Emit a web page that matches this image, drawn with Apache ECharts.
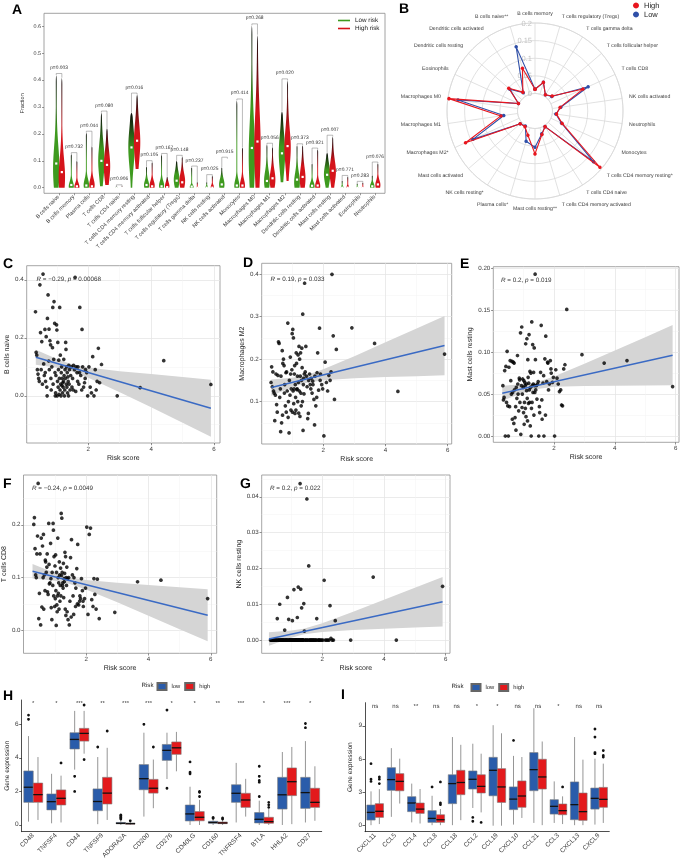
<!DOCTYPE html>
<html><head><meta charset="utf-8">
<script src="https://cdn.jsdelivr.net/npm/echarts@6/dist/echarts.min.js"></script>
<style>html,body{margin:0;padding:0;background:#fff}#c{width:685px;height:865px;will-change:transform;background:transparent;-webkit-font-smoothing:antialiased}#c svg{will-change:transform;text-rendering:geometricPrecision}</style>
</head><body><div id="c"></div><script>
// ---------------- DATA ----------------
const cellTypes = ['B cells naive','B cells memory','Plasma cells','T cells CD8','T cells CD4 naive','T cells CD4 memory resting','T cells CD4 memory activated','T cells follicular helper','T cells regulatory (Tregs)','T cells gamma delta','NK cells resting','NK cells activated','Monocytes','Macrophages M0','Macrophages M1','Macrophages M2','Dendritic cells resting','Dendritic cells activated','Mast cells resting','Mast cells activated','Eosinophils','Neutrophils'];
const violinPValues = ['0.003','0.732','0.044','0.080','0.906','0.016','0.105','0.167','0.148','0.237','0.025','0.915','0.414','0.268','0.056','0.020','0.373','0.921','0.007','0.771','0.283','0.076'];
// [min, max, median, densest value, spread, relative width]
const violinLow = [[0,0.42,0.09,0.07,0.06,1],[0,0.125,0.01,0.005,0.012,0.8],[0,0.205,0.008,0.01,0.015,0.85],[0.005,0.28,0.10,0.10,0.045,1],[0,0.004,0,0.001,0.002,0.3],[0,0.28,0.15,0.15,0.05,1],[0,0.078,0.01,0.01,0.012,0.8],[0,0.122,0.005,0.008,0.012,0.8],[0,0.10,0.026,0.03,0.02,0.9],[0,0.075,0.004,0.003,0.005,0.6],[0,0.02,0,0.001,0.004,0.4],[0,0.075,0.012,0.012,0.015,0.85],[0,0.325,0.008,0.008,0.015,0.8],[0,0.605,0.148,0.12,0.09,1],[0,0.16,0.025,0.025,0.025,0.9],[0.02,0.285,0.128,0.13,0.05,1],[0,0.158,0.03,0.02,0.025,0.9],[0,0.09,0.007,0.005,0.01,0.8],[0,0.13,0.048,0.05,0.025,1],[0,0.025,0,0.001,0.004,0.4],[0,0.015,0,0.001,0.003,0.3],[0,0.045,0.005,0.005,0.008,0.7]];
const violinHigh = [[0,0.41,0.058,0.04,0.05,1],[0,0.10,0.005,0.003,0.01,0.8],[0,0.155,0.005,0.01,0.015,0.85],[0.01,0.222,0.085,0.08,0.04,1],[0,0.005,0,0.001,0.002,0.3],[0.07,0.347,0.175,0.17,0.05,1],[0,0.095,0.005,0.008,0.012,0.8],[0,0.04,0.002,0.006,0.01,0.7],[0,0.115,0.02,0.025,0.02,0.9],[0,0.02,0,0,0.003,0.3],[0,0.043,0,0.002,0.006,0.5],[0,0.108,0.012,0.012,0.015,0.85],[0,0.15,0.008,0.008,0.015,0.8],[0,0.57,0.172,0.15,0.1,1],[0,0.152,0.035,0.03,0.025,0.9],[0.025,0.40,0.155,0.15,0.05,1],[0,0.158,0.04,0.035,0.03,0.9],[0,0.142,0.008,0.006,0.012,0.8],[0,0.19,0.063,0.06,0.03,1],[0,0.04,0,0.001,0.005,0.4],[0,0.018,0,0.001,0.003,0.3],[0,0.09,0.012,0.01,0.012,0.8]];
const violinTicks = [0,0.1,0.2,0.3,0.4,0.5,0.6];

const radarCats = ['B cells memory','T cells regulatory (Tregs)','T cells gamma delta','T cells follicular helper','T cells CD8','NK cells activated','Neutrophils','Monocytes','T cells CD4 memory resting*','T cells CD4 naive','T cells CD4 memory activated','Mast cells resting**','Plasma cells*','NK cells resting*','Mast cells activated','Macrophages M2*','Macrophages M1','Macrophages M0','Eosinophils','Dendritic cells resting','Dendritic cells activated','B cells naive**'];
const radarHigh = [0.012,0.035,0.005,0.015,0.100,0.022,0.012,0.035,0.194,0.003,0.020,0.072,0.022,0.003,0.006,0.167,0.048,0.197,0.002,0.049,0.014,0.077];
const radarLow  = [0.012,0.035,0.005,0.013,0.116,0.024,0.010,0.033,0.170,0.003,0.018,0.053,0.040,0.001,0.006,0.144,0.040,0.171,0.002,0.045,0.012,0.140];
const radarTicks = [0,0.05,0.1,0.15,0.2];

const riskScore = [0.32,0.34,0.36,0.38,0.40,0.42,0.44,0.46,0.48,0.50,0.52,0.54,0.56,0.58,
 0.60,0.62,0.63,0.64,0.66,0.68,0.69,0.70,0.72,0.74,0.75,0.76,0.78,0.80,0.81,0.82,0.84,0.86,0.87,0.88,
 0.90,0.91,0.93,0.94,0.95,0.96,0.97,0.99,1.00,1.01,1.02,1.03,1.04,1.05,1.06,1.07,1.08,1.09,1.10,1.11,1.12,1.13,1.14,1.15,1.16,1.17,1.18,1.19,
 1.20,1.21,1.22,1.23,1.24,1.25,1.26,1.27,1.28,1.29,1.30,1.31,1.32,1.33,1.34,1.35,1.36,1.37,1.38,1.39,1.40,1.42,1.44,1.46,1.48,
 1.50,1.52,1.53,1.56,1.58,1.60,1.61,1.64,1.66,1.67,1.70,1.72,1.73,1.76,1.79,1.80,1.82,1.85,1.88,1.90,1.91,1.95,1.98,
 2.02,2.06,2.10,2.14,2.18,2.22,2.25,2.28,2.32,2.36,2.42,
 2.92,3.65,4.40,5.90];
const bCellsNaive = [0.29,0.15,0.14,0.09,0.075,0.06,0.05,0.383,0.218,0.09,0.187,0.04,0.42,0.11,
 0.07,0.229,0.08,0.05,0.204,0.03,0.0,0.267,0.348,0.12,0.23,0.09,0.19,0.176,0.06,0.02,0.1,0.166,0.305,0.04,
 0.126,0.325,0.25,0.08,0.0,0.01,0.07,0.245,0.227,0.0,0.05,0.184,0.03,0.09,0.123,0.005,0.06,0.305,0.02,0.14,0.04,0.0,0.08,0.1,0.035,0.06,0.01,0.045,
 0.03,0.05,0.126,0.07,0.0,0.02,0.09,0.06,0.184,0.16,0.04,0.1,0.03,0.08,0.01,0.065,0.05,0.0,0.105,0.04,0.09,0.02,0.07,0.1,0.03,
 0.06,0.02,0.105,0.09,0.409,0.015,0.1,0.08,0.05,0.1,0.04,0.08,0.305,0.07,0.02,0.229,0.1,0.03,0.045,0.06,0.09,0.08,0.0,
 0.1,0.03,0.01,0.135,0.0,0.09,0.02,0.05,0.164,0.045,0.108,
 0.0,0.028,0.121,0.039];
const macrophagesM2 = [0.145,0.182,0.135,0.17,0.125,0.12,0.055,0.115,0.165,0.093,0.075,0.162,0.241,0.237,
 0.11,0.13,0.029,0.16,0.05,0.22,0.068,0.19,0.2,0.185,0.12,0.14,0.09,0.168,0.075,0.17,0.125,0.285,0.063,0.1,
 0.026,0.15,0.115,0.205,0.165,0.08,0.13,0.175,0.26,0.075,0.27,0.125,0.25,0.095,0.13,0.165,0.185,0.072,0.14,0.11,0.08,0.215,0.19,0.128,0.13,0.16,0.1,0.21,
 0.145,0.073,0.23,0.125,0.2,0.065,0.16,0.215,0.12,0.09,0.15,0.226,0.18,0.1,0.306,0.032,0.14,0.155,0.118,0.165,0.379,0.17,0.23,0.16,0.135,
 0.06,0.072,0.15,0.165,0.14,0.13,0.155,0.12,0.148,0.14,0.105,0.045,0.16,0.09,0.11,0.168,0.215,0.127,0.273,0.15,0.165,0.14,0.13,
 0.019,0.193,0.145,0.125,0.162,0.15,0.17,0.4,0.255,0.105,0.223,
 0.274,0.237,0.124,0.212];
const mastCellsResting = [0.06,0.043,0.046,0.078,0.0,0.083,0.04,0.101,0.036,0.0,0.082,0.035,0.09,0.066,
 0.05,0.089,0.02,0.052,0.088,0.015,0.087,0.055,0.022,0.035,0.007,0.058,0.045,0.096,0.062,0.05,0.03,0.069,0.067,0.04,
 0.123,0.002,0.06,0.13,0.034,0.05,0.068,0.058,0.028,0.066,0.014,0.04,0.064,0.06,0.033,0.11,0.023,0.062,0.054,0.116,0.045,0.018,0.091,0.07,0.039,0.063,0.121,0.055,
 0.04,0.077,0.012,0.058,0.075,0.0,0.033,0.136,0.04,0.06,0.109,0.052,0.062,0.076,0.025,0.105,0.06,0.052,0.193,0.091,0.055,0.06,0.044,0.062,0.065,
 0.0,0.035,0.028,0.076,0.132,0.043,0.02,0.063,0.072,0.0,0.092,0.025,0.119,0.065,0.088,0.087,0.055,0.062,0.09,0.08,0.075,0.064,0.07,
 0.0,0.079,0.069,0.062,0.053,0.055,0.037,0.036,0.08,0.085,0.151,
 0.097,0.087,0.09,0.059];
const tCellsCD8 = [0.201,0.214,0.155,0.105,0.1,0.145,0.179,0.279,0.022,0.07,0.145,0.01,0.175,0.044,
 0.16,0.1,0.182,0.04,0.105,0.075,0.133,0.13,0.11,0.12,0.145,0.073,0.068,0.203,0.125,0.088,0.09,0.165,0.098,0.043,
 0.02,0.11,0.085,0.203,0.19,0.065,0.14,0.045,0.122,0.06,0.143,0.075,0.009,0.11,0.048,0.035,0.065,0.175,0.1,0.07,0.09,0.04,0.13,0.105,0.055,0.085,0.118,0.065,
 0.222,0.104,0.213,0.11,0.085,0.09,0.08,0.127,0.062,0.098,0.092,0.108,0.148,0.04,0.14,0.028,0.1,0.085,0.12,0.035,0.098,0.02,0.1,0.01,0.055,
 0.138,0.025,0.172,0.105,0.065,0.03,0.1,0.09,0.045,0.08,0.117,0.05,0.163,0.048,0.055,0.065,0.06,0.098,0.075,0.055,0.045,0.06,0.08,
 0.196,0.03,0.182,0.194,0.058,0.045,0.098,0.068,0.04,0.097,0.022,
 0.034,0.092,0.095,0.06];
const nkCellsResting = [0,0,0,0,0,0,0,0,0,0,0,0.006,0,0,
 0,0.01,0,0,0,0,0,0,0,0,0,0,0.0028,0,0,0,0,0,0.0119,0,
 0,0.0058,0,0,0,0,0,0,0,0,0,0.0054,0,0,0,0,0.0141,0,0,0,0,0,0,0,0,0,0,0.0063,
 0,0,0.0148,0,0,0,0,0,0.0437,0,0.0142,0,0,0.009,0,0,0,0,0,0,0.0102,0.0025,0,0,0,
 0.0394,0,0,0.0207,0,0,0,0,0,0,0,0,0,0,0,0,0.006,0,0,0,0,0,0,
 0,0.0167,0,0,0,0,0.0096,0.0005,0,0,0.0054,
 0,0.0176,0,0.015];
// fitted lines and 95% bands
const fitC = [[0.33,0.133],[5.9,-0.043]];
const bandC = {x:[0.33,1,1.4,2,3,4,5,5.9], lo:[0.107,0.097,0.087,0.062,0.012,-0.040,-0.093,-0.141], hi:[0.159,0.127,0.111,0.098,0.085,0.075,0.065,0.055]};
const fitD = [[0.33,0.133],[5.9,0.232]];
const bandD = {x:[0.33,1,1.4,2,3,4,5,5.9], lo:[0.114,0.134,0.143,0.150,0.155,0.158,0.160,0.162], hi:[0.152,0.156,0.161,0.176,0.207,0.240,0.272,0.302]};
const fitE = [[0.3,0.051],[5.9,0.0964]];
const bandE = {x:[0.3,1,1.4,2,3,4,5,5.9], lo:[0.042,0.0516,0.0559,0.0586,0.0596,0.060,0.0603,0.0604], hi:[0.060,0.0618,0.0639,0.071,0.0862,0.102,0.1179,0.1324]};
const fitF = [[0.28,0.112],[5.9,0.0284]];
const bandF = {x:[0.28,1,1.4,2,3,4,5,5.9], lo:[0.0984,0.0939,0.0893,0.0775,0.0532,0.0275,0.0019,-0.0209], hi:[0.1256,0.1087,0.1013,0.0953,0.09,0.0859,0.0817,0.0777]};
const fitG = [[0.27,0.0003],[5.9,0.0107]];
const bandG = {x:[0.27,1,1.4,2,3,4,5,5.9], lo:[-0.0016,0.00065,0.00159,0.00228,0.00279,0.00317,0.00352,0.00382], hi:[0.0022,0.00265,0.00319,0.00472,0.00791,0.01123,0.01458,0.01762]};

const checkpointGenes = ['CD48','TNFSF4','CD44','TNFSF9','ADORA2A','CD200','CD276','CD40LG','CD160','TNFRSF4','BTLA','HHLA2','CD27'];
const checkpointSig = ['*','*','***','**','***','***','*','*','**','***','*','***','*'];
// [lower whisker, Q1, median, Q3, upper whisker]
const checkpointLow = [[0.2,1.35,2.25,3.22,5.3],[0.1,0.9,1.39,1.85,3.05],[3.3,4.53,5.1,5.5,6.8],[0.05,0.85,1.4,2.15,4.05],[0,0.07,0.1,0.15,0.3],[0.5,2.1,2.76,3.6,5.5],[2.74,3.85,4.45,4.8,5.5],[0,0.24,0.66,1.19,2.28],[0,0.1,0.15,0.22,0.35],[0.15,1.35,1.89,2.4,3.7],[0,0.12,0.34,0.74,1.45],[0,0.95,1.8,2.84,4.35],[0.15,0.99,1.93,2.84,5.0]];
const checkpointLowOut = [[6.3,6.55],[],[2.9,2.0],[4.65],[0.35,0.42,0.48,0.55,0.6],[6.0],[6.85,2.19],[3.05,3.15,3.76],[0.4,0.45,0.5],[],[1.7,2.4,2.55,2.65,2.9,3.5],[],[5.8,6.05]];
const checkpointHigh = [[0.3,1.35,1.81,2.5,4.05],[0.15,1.19,1.59,2.09,2.94],[4.25,5.0,5.46,5.76,6.8],[0.3,1.25,1.9,2.84,4.6],[0,0.05,0.08,0.12,0.2],[1.0,1.9,2.19,2.72,3.9],[3.2,4.21,4.6,4.95,5.55],[0,0.25,0.46,0.8,1.5],[0,0.08,0.12,0.18,0.3],[0.5,1.05,1.49,1.89,2.75],[0,0.1,0.2,0.46,0.95],[0.05,1.75,2.58,3.4,4.65],[0.25,1.05,1.35,2.19,3.5]];
const checkpointHighOut = [[],[3.7],[7.15,3.9],[5.6],[0.25],[4.65,0.7],[],[1.7,1.95,2.0],[0.35,0.42],[],[1.05,1.2,1.35],[],[]];
const checkpointTicks = [0,2,4,6];

const chemoGenes = ['CXCL11','CCL5','CCL4','CCL8','CCL18','CCL2','CCL19','CXCL10','CCL21','CCL3','CXCL13','CXCL9'];
const chemoSig = ['ns','ns','**','ns','ns','*','*','ns','ns','*','ns','ns'];
const chemoLow = [[0.05,0.51,1.2,1.87,3.1],[0.8,3.19,4.16,5.24,7.0],[0.3,1.27,2.05,2.62,3.8],[0.05,0.3,0.66,1.36,2.7],[0.05,1.99,3.8,4.6,8.0],[1.6,3.31,4.19,4.94,7.4],[0,2.7,5.0,6.17,9.07],[0.1,1.45,2.4,3.5,6.3],[0.25,3.16,5.06,6.6,10.6],[0.25,1.05,1.75,2.35,4.0],[0.05,0.54,1.9,3.95,8.0],[0.1,1.5,2.47,3.4,6.05]];
const chemoLowOut = [[4.0,4.2,5.6],[],[],[3.5],[],[0.75,0.4],[],[7.7],[],[],[],[6.5,6.6,8.0,8.73]];
const chemoHigh = [[0.15,0.75,1.3,1.99,3.3],[2.0,3.15,4.0,4.7,6.05],[0.2,1.11,1.5,2.05,3.31],[0.05,0.3,0.54,0.99,1.5],[0.5,2.8,3.9,5.0,7.3],[1.2,2.95,3.55,4.6,6.5],[0,2.1,3.5,5.15,8.34],[0.7,1.66,2.68,4.04,6.2],[0.05,3.31,4.4,6.0,7.6],[0.15,0.99,1.36,1.96,2.65],[0.05,0.48,1.27,2.95,5.96],[0.25,1.66,2.38,3.46,5.6]];
const chemoHighOut = [[3.8,4.2,4.4],[],[],[1.9,2.05,2.2,3.95],[],[0.3],[],[],[],[3.5],[],[6.2,6.35,6.78]];
const chemoTicks = [0,3,6,9];

// ---------------- STYLE ----------------
const FONT = '"Liberation Sans", Arial, Helvetica, sans-serif';
const GREEN = '#3E9A1F', VRED = '#D5141B';
const BLUE = '#2A5CAA', RED = '#E3191C';
const RBLUE = '#2F4FA8', RRED = '#E8161E';
const FIT = '#3A6AC4';
const TXT = '#3a3a3a';

const grids = [], xAxes = [], yAxes = [], series = [], graphics = [];

// ---- Panel A ----
grids.push({left:44, top:13.3, width:341, height:180, show:true, borderColor:'#8c8c8c', borderWidth:0.8});
const idx = cellTypes.map((c,i)=>i);
xAxes.push({gridIndex:0, type:'value', min:-1.0, max:21.66, axisLine:{show:false, onZero:false}, splitLine:{show:false},
  axisTick:{show:true, length:2, customValues:idx, lineStyle:{color:'#555', width:0.6}},
  axisLabel:{customValues:idx, formatter:v=>cellTypes[Math.round(v)]||'', rotate:45, fontSize:5.5, color:TXT, margin:3, fontFamily:FONT}});
yAxes.push({gridIndex:0, type:'value', min:-0.021, max:0.65, axisLine:{show:false, onZero:false}, splitLine:{show:false},
  axisTick:{show:true, length:2, customValues:violinTicks, lineStyle:{color:'#555', width:0.6}},
  axisLabel:{customValues:violinTicks, formatter:v=>v.toFixed(1), fontSize:5.4, color:TXT, margin:3, fontFamily:FONT},
  name:'Fraction', nameLocation:'middle', nameGap:18, nameTextStyle:{fontSize:5.6, color:'#333', fontFamily:FONT}});

function violinRender(stats, dx, color){
  return function(params, api){
    const i = params.dataIndex; const s = stats[i];
    const [lo,hi,med,peak,sp,rw] = s;
    const cx = api.coord([i,0])[0] + dx;
    const W = 3.2, N = 50, L = [], R = [];
    for (let k=0;k<=N;k++){
      const v = lo + (hi-lo)*k/N;
      const g = Math.exp(-0.5*Math.pow((v-peak)/(sp*1.3),2));
      const g2 = Math.exp(-0.5*Math.pow((v-peak)/(sp*3),2));
      let w = W*rw*(0.7*g + 0.3*g2);
      w = Math.max(w, 0.45);
      const tt = Math.min(1, (hi-v)/((hi-lo)*0.05+1e-9));
      w *= Math.sqrt(tt);
      const y = api.coord([i, v])[1];
      R.push([cx+w, y]); L.push([cx-w, y]);
    }
    const pts = R.concat(L.reverse());
    const my = api.coord([i, med])[1];
    return {type:'group', children:[
      {type:'polygon', shape:{points:pts}, style:{fill:new echarts.graphic.LinearGradient(0,0,0,1,[{offset:0,color:'#0a0a0a'},{offset:0.5,color:color},{offset:1,color:color}])}},
      {type:'rect', shape:{x:cx-1.1, y:my-1.1, width:2.2, height:2.2}, style:{fill:'#fff'}}
    ]};
  };
}
const violinData = cellTypes.map((c,i)=>[i, 0, 0.6]);
series.push({type:'custom', name:'Low risk', xAxisIndex:0, yAxisIndex:0, data:violinData, encode:{x:0,y:[1,2]}, itemStyle:{color:GREEN}, renderItem:violinRender(violinLow,-2.8,GREEN), z:3});
series.push({type:'custom', name:'High risk', xAxisIndex:0, yAxisIndex:0, data:violinData, encode:{x:0,y:[1,2]}, itemStyle:{color:VRED}, renderItem:violinRender(violinHigh,2.8,VRED), z:3});
series.push({type:'custom', name:'pvals', xAxisIndex:0, yAxisIndex:0, data:violinData, encode:{x:0,y:[1,2]}, silent:true, z:4,
  renderItem:function(params, api){
    const i = params.dataIndex; const a = violinLow[i], b = violinHigh[i];
    const xl = api.coord([i,0])[0]-2.8, xh = xl+5.6;
    const top = Math.max(a[1], b[1]);
    const yb = api.coord([i, top])[1] - 1.5;
    const yl = api.coord([i, a[1]])[1], yh = api.coord([i, b[1]])[1];
    return {type:'group', children:[
      {type:'polyline', shape:{points:[[xl,yl],[xl,yb],[xh,yb],[xh,yh]]}, style:{stroke:'#777', lineWidth:0.5, fill:null}},
      {type:'text', x:(xl+xh)/2, y:yb-5, style:{text:'p='+violinPValues[i], fontSize:4.9, fill:'#333', align:'center', verticalAlign:'middle', fontFamily:FONT}}
    ]};
  }});

// ---- Scatter panels C-G ----
const scatterCfg = [
 {y:bCellsNaive, name:'B cells naive', box:[26.7,265.7,193.3,177.3], xr:[0.04,6.19], yr:[-0.163,0.449], yMajor:[0,0.2,0.4], yMinor:[-0.1,0.1,0.3], dec:1, fit:fitC, band:bandC, stat:['−0.29','0.00068'], sp:[36.5,279.3], yGap:11},
 {y:macrophagesM2, name:'Macrophages M2', box:[261.7,263.3,190,180.7], xr:[0.02,6.13], yr:[0.0,0.426], yMajor:[0.1,0.2,0.3,0.4], yMinor:[0.05,0.15,0.25,0.35], dec:1, fit:fitD, band:bandD, stat:['0.19','0.033'], sp:[270.5,279.3], yGap:11},
 {y:mastCellsResting, name:'Mast cells resting', box:[493.3,266.7,185.7,175.6], xr:[0.005,6.11], yr:[-0.0075,0.2019], yMajor:[0,0.05,0.1,0.15,0.2], yMinor:[0.025,0.075,0.125,0.175], dec:2, fit:fitE, band:bandE, stat:['0.2','0.019'], sp:[501,280], yGap:14},
 {y:tCellsCD8, name:'T cells CD8', box:[23.3,475,193.4,178.3], xr:[-0.01,6.19], yr:[-0.044,0.295], yMajor:[0,0.1,0.2], yMinor:[0.05,0.15,0.25], dec:1, fit:fitF, band:bandF, stat:['−0.24','0.0049'], sp:[32,488.3], yGap:11},
 {y:nkCellsResting, name:'NK cells resting', box:[261.7,475,188.3,178.3], xr:[0.035,6.14], yr:[-0.0037,0.0461], yMajor:[0,0.01,0.02,0.03,0.04], yMinor:[0.005,0.015,0.025,0.035,0.045], dec:2, fit:fitG, band:bandG, stat:['0.2','0.022'], sp:[270,488.3], yGap:14}
];
const xMajor = [2,4,6], xMinor = [1,3,5];
scatterCfg.forEach((c,k)=>{
  const g = grids.length;
  grids.push({left:c.box[0], top:c.box[1], width:c.box[2], height:c.box[3], show:true, borderColor:'#8f8f8f', borderWidth:0.8});
  const xi = xAxes.length, yi = yAxes.length;
  xAxes.push({gridIndex:g, type:'value', min:c.xr[0], max:c.xr[1], position:'bottom', axisLine:{show:false, onZero:false},
    axisTick:{show:true, length:2.2, customValues:xMajor, lineStyle:{color:'#444', width:0.6}},
    axisLabel:{customValues:xMajor, fontSize:6.2, color:TXT, margin:3, fontFamily:FONT},
    splitLine:{show:true, lineStyle:{color:'#e6e6e6', width:0.8}},
    name:'Risk score', nameLocation:'middle', nameGap:12, nameTextStyle:{fontSize:7, color:'#222', fontFamily:FONT}});
  xAxes.push({gridIndex:g, type:'value', min:c.xr[0], max:c.xr[1], position:'top', axisLine:{show:false, onZero:false}, axisLabel:{show:false},
    axisTick:{show:false, customValues:xMinor}, splitLine:{show:true, lineStyle:{color:'#f3f3f3', width:0.5}}});
  yAxes.push({gridIndex:g, type:'value', min:c.yr[0], max:c.yr[1], position:'left', axisLine:{show:false, onZero:false},
    axisTick:{show:true, length:2.2, customValues:c.yMajor, lineStyle:{color:'#444', width:0.6}},
    axisLabel:{customValues:c.yMajor, formatter:v=>v.toFixed(c.dec), fontSize:6.2, color:TXT, margin:3, fontFamily:FONT},
    splitLine:{show:true, lineStyle:{color:'#e6e6e6', width:0.8}},
    name:c.name, nameLocation:'middle', nameGap:c.yGap, nameTextStyle:{fontSize:7, color:'#222', fontFamily:FONT}});
  yAxes.push({gridIndex:g, type:'value', min:c.yr[0], max:c.yr[1], position:'right', axisLine:{show:false, onZero:false}, axisLabel:{show:false},
    axisTick:{show:false, customValues:c.yMinor}, splitLine:{show:true, lineStyle:{color:'#f3f3f3', width:0.5}}});
  const band = c.band;
  series.push({type:'custom', xAxisIndex:xi, yAxisIndex:yi, silent:true, z:2, data:[[band.x[0], band.lo[0]]],
    renderItem:function(p, api){
      const pts = [];
      band.x.forEach((x,j)=>pts.push(api.coord([x, band.hi[j]])));
      for (let j=band.x.length-1;j>=0;j--) pts.push(api.coord([band.x[j], band.lo[j]]));
      return {type:'polygon', shape:{points:pts}, style:{fill:'#d5d5d5'}};
    }});
  series.push({type:'scatter', xAxisIndex:xi, yAxisIndex:yi, z:3, symbolSize:3.7, itemStyle:{color:'#000'},
    data: riskScore.map((x,j)=>[x, c.y[j]])});
  series.push({type:'line', xAxisIndex:xi, yAxisIndex:yi, z:4, symbol:'none', lineStyle:{color:FIT, width:1.5}, data:c.fit});
  graphics.push({type:'text', x:c.sp[0], y:c.sp[1], z:10, style:{text:'{i|R} = '+c.stat[0]+', {i|p} = '+c.stat[1], fontSize:6.3, fill:'#333', fontFamily:FONT, verticalAlign:'middle',
    rich:{i:{fontStyle:'italic', fontSize:6.3, fill:'#333', color:'#333', fontFamily:FONT}}}});
});

// ---- Box panels H, I ----
function boxRender(stats, outs, side, color){
  return function(params, api){
    const i = params.dataIndex; const s = stats[i];
    const band = api.size([1,0])[0];
    const bw = band*0.41;
    const cx = api.coord([i,0])[0] + side*bw/2;
    const y = v => api.coord([i, v])[1];
    const ch = [
      {type:'line', shape:{x1:cx,y1:y(s[0]),x2:cx,y2:y(s[1])}, style:{stroke:'#8a8a8a', lineWidth:0.9}},
      {type:'line', shape:{x1:cx,y1:y(s[3]),x2:cx,y2:y(s[4])}, style:{stroke:'#8a8a8a', lineWidth:0.9}},
      {type:'rect', shape:{x:cx-bw/2, y:y(s[3]), width:bw, height:y(s[1])-y(s[3])}, style:{fill:color, stroke:'#7a7a7a', lineWidth:0.6}},
      {type:'line', shape:{x1:cx-bw/2,y1:y(s[2]),x2:cx+bw/2,y2:y(s[2])}, style:{stroke:'#111', lineWidth:1.3}}
    ];
    outs[i].forEach(o=>ch.push({type:'circle', shape:{cx:cx, cy:y(o), r:1.4}, style:{fill:'#111'}}));
    return {type:'group', children:ch};
  };
}
function addBoxPanel(box, genes, ticks, yr, low, lowOut, high, highOut, sig, sigY){
  const g = grids.length;
  grids.push({left:box[0], top:box[1], width:box[2], height:box[3]});
  const xi = xAxes.length, yi = yAxes.length;
  xAxes.push({gridIndex:g, type:'category', data:genes, position:'bottom', axisLine:{onZero:false, lineStyle:{color:'#222', width:0.8}},
    axisTick:{alignWithLabel:true, length:2.5, lineStyle:{color:'#222', width:0.7}},
    axisLabel:{rotate:45, fontSize:6.5, color:TXT, margin:3, interval:0, fontFamily:FONT}, splitLine:{show:false}});
  yAxes.push({gridIndex:g, type:'value', min:yr[0], max:yr[1], position:'left', axisLine:{show:true, onZero:false, lineStyle:{color:'#222', width:0.8}},
    axisTick:{show:true, length:2.5, customValues:ticks, lineStyle:{color:'#222', width:0.7}},
    axisLabel:{customValues:ticks, fontSize:6.5, color:TXT, margin:3, fontFamily:FONT}, splitLine:{show:false},
    name:'Gene expression', nameLocation:'middle', nameGap:10, nameTextStyle:{fontSize:6.6, color:'#222', fontFamily:FONT}});
  const d = genes.map((n,i)=>[i, yr[0], yr[1]]);
  series.push({type:'custom', name:'low', xAxisIndex:xi, yAxisIndex:yi, data:d, encode:{x:0,y:[1,2]}, itemStyle:{color:BLUE, borderColor:'#666', borderWidth:0.5}, renderItem:boxRender(low, lowOut, -1, BLUE)});
  series.push({type:'custom', name:'high', xAxisIndex:xi, yAxisIndex:yi, data:d, encode:{x:0,y:[1,2]}, itemStyle:{color:RED, borderColor:'#666', borderWidth:0.5}, renderItem:boxRender(high, highOut, 1, RED)});
  series.push({type:'custom', xAxisIndex:xi, yAxisIndex:yi, data:d, encode:{x:0,y:[1,2]}, silent:true,
    renderItem:function(p, api){
      const i = p.dataIndex; const pt = api.coord([i, sigY]);
      return {type:'text', x:pt[0], y:pt[1], style:{text:sig[i], fontSize:6, fill:'#333', align:'center', verticalAlign:'middle', fontFamily:FONT}};
    }});
}
addBoxPanel([21.7,700,300,131.7], checkpointGenes, checkpointTicks, [-0.4,7.45], checkpointLow, checkpointLowOut, checkpointHigh, checkpointHighOut, checkpointSig, 7.2);
addBoxPanel([365,702.7,244.3,129], chemoGenes, chemoTicks, [-0.54,11.1], chemoLow, chemoLowOut, chemoHigh, chemoHighOut, chemoSig, 10.7);

// ---- Panel B (polar) ----
series.push({type:'line', name:'Low', coordinateSystem:'polar', symbol:'circle', symbolSize:3.5, lineStyle:{color:RBLUE, width:1.1}, itemStyle:{color:RBLUE}, z:5,
  data: radarLow.map((v,i)=>[v,i]).concat([[radarLow[0], radarCats.length]])});
series.push({type:'line', name:'High', coordinateSystem:'polar', symbol:'circle', symbolSize:3.5, lineStyle:{color:RRED, width:1.1}, itemStyle:{color:RRED}, z:6,
  data: radarHigh.map((v,i)=>[v,i]).concat([[radarHigh[0], radarCats.length]])});

// ---- Text ----
const letters = [['A',12,9],['B',399,8],['C',3,263],['D',243,262],['E',460,263],['F',3,483],['G',240,483],['H',3,695],['I',341,694]];
letters.forEach(l=>graphics.push({type:'text', x:l[1], y:l[2], z:10, style:{text:l[0], fontSize:14, fontWeight:'bold', fill:'#000', fontFamily:FONT, verticalAlign:'middle'}}));
graphics.push({type:'text', x:141.5, y:685.5, style:{text:'Risk', fontSize:6.2, fill:'#222', fontFamily:FONT, verticalAlign:'middle'}});
graphics.push({type:'text', x:451.5, y:686.5, style:{text:'Risk', fontSize:6.2, fill:'#222', fontFamily:FONT, verticalAlign:'middle'}});

const option = {
  animation:false,
  textStyle:{fontFamily:FONT},
  grid:grids, xAxis:xAxes, yAxis:yAxes,
  polar:{center:[535,111], radius:[17.5,88]},
  angleAxis:{type:'value', min:0, max:radarCats.length, interval:1, startAngle:90, clockwise:true,
    axisLine:{show:true, lineStyle:{color:'#d9d9d9', width:0.8}}, axisTick:{show:false},
    axisLabel:{formatter:v=>radarCats[v]||'', fontSize:5.2, color:TXT, margin:7, fontFamily:FONT},
    splitLine:{show:true, lineStyle:{color:'#d9d9d9', width:0.8}}},
  radiusAxis:{type:'value', min:0, max:0.2, interval:0.05, axisLine:{show:false}, axisTick:{show:false},
    axisLabel:{fontSize:7.5, color:'#c4c4c4', fontFamily:FONT, margin:3},
    splitLine:{show:true, lineStyle:{color:'#d9d9d9', width:0.8}}},
  legend:[
    {data:['Low risk','High risk'], orient:'vertical', left:338, top:17, itemWidth:12, itemHeight:1.6, itemGap:1, icon:'rect', padding:0,
      textStyle:{fontSize:6.3, color:'#222', fontFamily:FONT, lineHeight:7}},
    {data:['High','Low'], orient:'vertical', left:633, top:1.5, itemWidth:6, itemHeight:6, itemGap:1, icon:'circle', padding:0,
      textStyle:{fontSize:7.5, color:'#222', fontFamily:FONT, lineHeight:8}},
    {data:['low','high'], left:156.5, top:682, itemWidth:9, itemHeight:7, itemGap:4, icon:'rect', padding:0,
      textStyle:{fontSize:5.8, color:'#222', fontFamily:FONT}},
    {data:['low','high'], left:470.5, top:683, itemWidth:9, itemHeight:7, itemGap:4, icon:'rect', padding:0,
      textStyle:{fontSize:5.8, color:'#222', fontFamily:FONT}}
  ],
  series:series,
  graphic:graphics
};
const chart = echarts.init(document.getElementById('c'), null, {renderer:'svg', width:685, height:865});
chart.setOption(option);
</script></body></html>
